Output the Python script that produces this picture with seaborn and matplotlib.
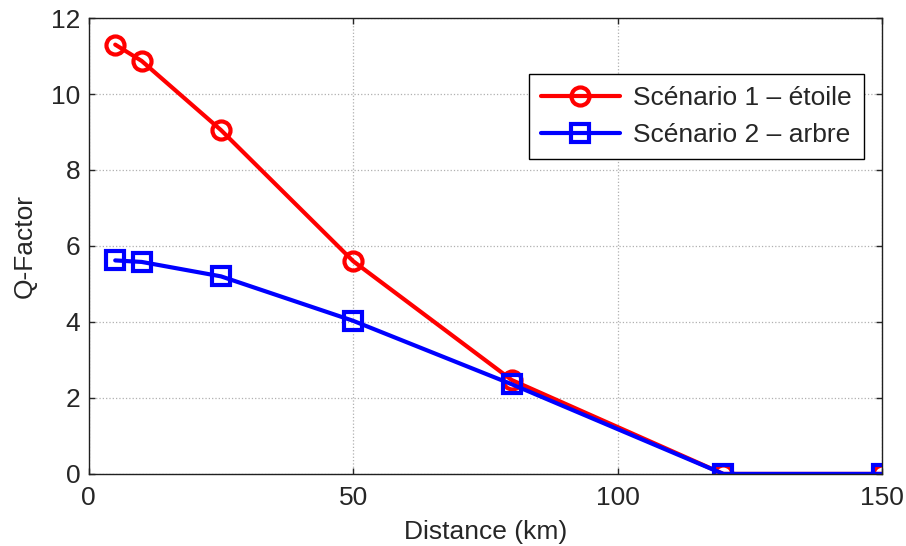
import matplotlib
matplotlib.use("Agg")
import matplotlib.pyplot as plt
import seaborn as sns
import pandas as pd

distance = [5, 10, 25, 50, 80, 120, 150]
q_etoile = [11.3, 10.87, 9.05, 5.6, 2.47, 0.0, 0.0]
q_arbre = [5.62, 5.58, 5.2, 4.03, 2.36, 0.0, 0.0]
series_names = ["Scénario 1 – étoile", "Scénario 2 – arbre"]
xticks = [0, 50, 100, 150]
yticks = [0, 2, 4, 6, 8, 10, 12]

sns.set_style("white")
plt.rcParams['font.family'] = ['Liberation Sans', 'DejaVu Sans']

df = pd.DataFrame({
    "Distance": distance * 2,
    "Q": q_etoile + q_arbre,
    "Serie": [series_names[0]] * len(distance) + [series_names[1]] * len(distance),
})

fig = plt.figure(figsize=(9.06, 5.46), dpi=100)
ax = fig.add_axes([0.098, 0.132, 0.8755, 0.835])

sns.lineplot(data=df, x="Distance", y="Q", hue="Serie", style="Serie",
             palette={series_names[0]: "#ff0000", series_names[1]: "#0000ff"},
             markers={series_names[0]: "o", series_names[1]: "s"},
             dashes=False, linewidth=3, markersize=13,
             markerfacecolor="none", markeredgewidth=3, ax=ax)
for line in ax.lines:
    line.set_markerfacecolor("none")
    line.set_markeredgecolor(line.get_color())

ax.set_xlim(0, 150)
ax.set_ylim(0, 12)
ax.set_xticks(xticks)
ax.set_yticks(yticks)
ax.grid(True, color="#b0b0b0", linestyle=":", linewidth=0.9)
ax.tick_params(direction="in", length=4, width=1, labelsize=19,
               top=True, right=True, bottom=True, left=True)
ax.tick_params(axis="x", pad=9)
ax.tick_params(axis="y", pad=6)
for s in ax.spines.values():
    s.set_color("#202020")
    s.set_linewidth(1.0)
    s.set_visible(True)
ax.set_xlabel("Distance (km)", fontsize=19, labelpad=7)
ax.set_ylabel("Q-Factor", fontsize=19, labelpad=10)

leg = ax.legend(loc="upper right", bbox_to_anchor=(0.977, 0.877), fontsize=19,
                frameon=True, fancybox=False, edgecolor="black", framealpha=1,
                handlelength=3.0, borderpad=0.45, labelspacing=0.5,
                handletextpad=0.5, borderaxespad=0)
leg.get_frame().set_linewidth(1.0)
for h in leg.legend_handles:
    h.set_markerfacecolor("none")

fig.savefig("out.png", dpi=100)
